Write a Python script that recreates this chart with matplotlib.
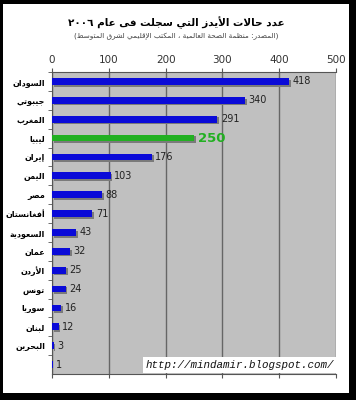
import re
import matplotlib
matplotlib.use("Agg")
import matplotlib.pyplot as plt
import matplotlib.patheffects as pe
from matplotlib.patches import Rectangle

# data (top to bottom)
countries = ["السودان", "جيبوتي", "المغرب", "ليبيا", "إيران", "اليمن", "مصر",
             "أفغانستان", "السعودية", "عمان", "الأردن", "تونس", "سوريا", "لبنان",
             "البحرين", ""]
cases = [418, 340, 291, 250, 176, 103, 88, 71, 43, 32, 25, 24, 16, 12, 3, 1]
highlight = "ليبيا"
x_ticks = [0, 100, 200, 300, 400, 500]

title = "عدد حالات الأيدز التي سجلت فى عام ٢٠٠٦"
subtitle = "(المصدر: منظمة الصحة العالمية ، المكتب الإقليمي لشرق المتوسط)"
watermark = "http://mindamir.blogspot.com/"

# minimal arabic shaping, matplotlib has no text shaping of its own
FORMS = {
    'ا': (0xFE8D, False), 'أ': (0xFE83, False), 'إ': (0xFE87, False), 'آ': (0xFE81, False),
    'ب': (0xFE8F, True), 'ة': (0xFE93, False), 'ت': (0xFE95, True), 'ث': (0xFE99, True),
    'ج': (0xFE9D, True), 'ح': (0xFEA1, True), 'خ': (0xFEA5, True), 'د': (0xFEA9, False),
    'ذ': (0xFEAB, False), 'ر': (0xFEAD, False), 'ز': (0xFEAF, False), 'س': (0xFEB1, True),
    'ش': (0xFEB5, True), 'ص': (0xFEB9, True), 'ض': (0xFEBD, True), 'ط': (0xFEC1, True),
    'ظ': (0xFEC5, True), 'ع': (0xFEC9, True), 'غ': (0xFECD, True), 'ف': (0xFED1, True),
    'ق': (0xFED5, True), 'ك': (0xFED9, True), 'ل': (0xFEDD, True), 'م': (0xFEE1, True),
    'ن': (0xFEE5, True), 'ه': (0xFEE9, True), 'و': (0xFEED, False), 'ى': (0xFEEF, False),
    'ي': (0xFEF1, True),
}
LAM_ALEF = {'ا': 0xFEFB, 'أ': 0xFEF7, 'إ': 0xFEF9, 'آ': 0xFEF5}


def shape(text):
    chars = []
    i = 0
    while i < len(text):
        c = text[i]
        if c == 'ل' and i + 1 < len(text) and text[i + 1] in LAM_ALEF:
            chars.append(('LA', text[i + 1]))
            i += 2
        else:
            chars.append(c)
            i += 1
    out = []
    for k, c in enumerate(chars):
        prev = chars[k - 1] if k > 0 else None
        nxt = chars[k + 1] if k + 1 < len(chars) else None
        p = isinstance(prev, str) and prev in FORMS and FORMS[prev][1]
        if isinstance(c, tuple):
            out.append(chr(LAM_ALEF[c[1]] + (1 if p else 0)))
            continue
        if c not in FORMS:
            out.append(c)
            continue
        base, dual = FORMS[c]
        n = dual and nxt is not None and (isinstance(nxt, tuple) or nxt in FORMS)
        form = 3 if (p and n) else 1 if p else 2 if n else 0
        out.append(chr(base + form))
    return ''.join(out)


def ar(text):
    s = shape(text)[::-1]
    s = re.sub(r'[0-9\u0660-\u0669]+', lambda m: m.group(0)[::-1], s)
    return s.translate(str.maketrans('()', ')('))


plt.rcParams['font.family'] = ['DejaVu Sans']

W, H = 356, 400
fig = plt.figure(figsize=(W / 100, H / 100), dpi=100, facecolor='black')
fig.patches.append(Rectangle((3 / W, 7 / H), 346 / W, 389 / H, transform=fig.transFigure,
                             facecolor='white', edgecolor='none', zorder=-1))

ax = fig.add_axes([52 / W, 1 - 374 / H, 284 / W, 302 / H])
ax.set_facecolor('#c0c0c0')

ypos = list(range(len(countries)))
colors = ['#22b022' if c == highlight else '#0a0ad8' for c in countries]
bars = ax.barh(ypos, cases, height=0.36, color=colors, zorder=3)
for b in bars:
    b.set_path_effects([pe.SimplePatchShadow(offset=(1.2, -1.2), shadow_rgbFace='#7a7a7a', alpha=1),
                        pe.Normal()])

for y, v, c in zip(ypos, cases, countries):
    if c == highlight:
        ax.annotate(str(v), (v, y), xytext=(3, 0), textcoords='offset points',
                    va='center', ha='left', fontsize=9.5, fontweight='bold', color='#22b022')
    else:
        ax.annotate(str(v), (v, y), xytext=(2.5, 0), textcoords='offset points',
                    va='center', ha='left', fontsize=7, color='#222222')

ax.set_xlim(0, 500)
ax.set_ylim(len(countries) - 0.5, -0.5)
ax.set_xticks(x_ticks)
ax.xaxis.tick_top()
ax.tick_params(axis='x', which='major', top=True, bottom=True, direction='out', length=3,
               labelsize=7.5, labelcolor='#333333', color='#555555', pad=2)
ax.set_yticks(ypos)
ax.set_yticklabels([ar(c) for c in countries], fontsize=5.8, fontweight='bold')
ax.tick_params(axis='y', which='major', length=0, pad=5)
ax.set_yticks([y + 0.5 for y in ypos[:-1]] + [-0.5], minor=True)
ax.tick_params(axis='y', which='minor', length=3, color='#555555', direction='out')

ax.grid(axis='x', color='#666666', linewidth=1, zorder=1)
ax.set_axisbelow(True)
for side in ['top', 'left', 'bottom']:
    ax.spines[side].set_color('#555555')
    ax.spines[side].set_linewidth(0.8)
ax.spines['right'].set_visible(False)

fig.text(176 / W, 1 - 23 / H, ar(title), ha='center', va='center', fontsize=7.5, fontweight='bold')
fig.text(176 / W, 1 - 36 / H, ar(subtitle), ha='center', va='center', fontsize=5.2, color='#444444')

fig.patches.append(Rectangle((143 / W, 1 - 373 / H), 194 / W, 16 / H, transform=fig.transFigure,
                             facecolor='white', edgecolor='none', zorder=5))
fig.text(240 / W, 1 - 365 / H, watermark, ha='center', va='center', fontsize=7.8,
         family='Liberation Mono', style='italic', color='#111111', zorder=6)

fig.savefig('out.png', dpi=100, facecolor='black')
